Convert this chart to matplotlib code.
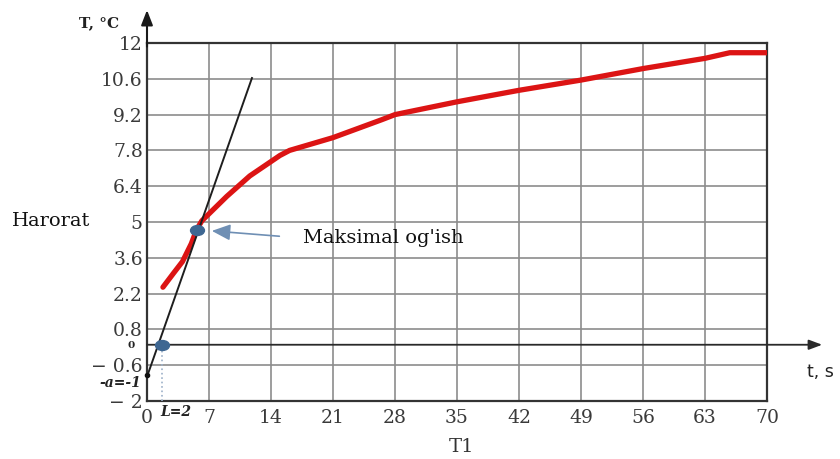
import matplotlib
matplotlib.use("Agg")
import matplotlib.pyplot as plt
from matplotlib.path import Path

# red heating curve
t_curve = [1.8, 3.0, 4.0, 5.0, 5.6, 6.2, 9.0, 11.6, 15.0, 16.1, 21.0, 26.5, 28.0, 35.0, 42.0, 49.0, 56.0, 63.0, 65.8, 70.0]
T_curve = [2.45, 3.0, 3.45, 4.15, 4.7, 5.05, 6.0, 6.8, 7.6, 7.8, 8.3, 9.0, 9.2, 9.7, 10.15, 10.55, 11.0, 11.4, 11.62, 11.62]

# tangent line at the inflection point
tan_t = [0, 11.85]
tan_T = [-1.05, 10.63]

# points marked on the chart
maxdev_pt = (5.6, 4.7)
L_pt = (1.7, 0.2)
a_pt = (0, -1.0)
zero_level = 0.2   # the drawn "0" line sits a bit above the grid value in the original

xticks = [0, 7, 14, 21, 28, 35, 42, 49, 56, 63, 70]
xlabels = ["0", "7", "14", "21", "28", "35", "42", "49", "56", "63", "70"]
yticks = [12, 10.6, 9.2, 7.8, 6.4, 5.0, 3.6, 2.2, 0.8, -0.6, -2.0]
ylabels = ["12", "10.6", "9.2", "7.8", "6.4", "5", "3.6", "2.2", "0.8", "\u2212 0.6", "\u2212 2"]

W, H = 840, 459

def px(x, y):
    return x / W, 1 - y / H

fig = plt.figure(figsize=(W / 100, H / 100), dpi=100)
ax = fig.add_axes([147 / W, 58 / H, 620 / W, 358 / H])

ax.set_xlim(0, 70)
ax.set_ylim(-2, 12)
ax.set_xticks(xticks)
ax.set_xticklabels(xlabels)
ax.set_yticks(yticks)
ax.set_yticklabels(ylabels)
ax.tick_params(axis="both", length=0, labelsize=13.5, labelcolor="#3a3a3a")
ax.tick_params(axis="y", pad=3)
ax.tick_params(axis="x", pad=6)
for lab in ax.get_xticklabels() + ax.get_yticklabels():
    lab.set_family("DejaVu Serif")
ax.grid(True, color="#8c8c8c", lw=1.2)
ax.set_axisbelow(True)
for sp in ax.spines.values():
    sp.set_color("#333333")
    sp.set_linewidth(1.6)

# zero line with arrow to the right
ax.annotate("", xy=(1.089, zero_level), xytext=(0, zero_level),
            xycoords=("axes fraction", "data"), textcoords=("axes fraction", "data"),
            arrowprops=dict(arrowstyle="-|>,head_length=0.8,head_width=0.3", color="#2a2a2a",
                            lw=1.3, shrinkA=0, shrinkB=0), annotation_clip=False)
# y axis arrow on top
ax.annotate("", xy=(0, 1.092), xytext=(0, 0.99), xycoords="axes fraction",
            arrowprops=dict(arrowstyle="-|>,head_length=0.9,head_width=0.35", color="#1a1a1a",
                            lw=1.5, shrinkA=0, shrinkB=0), annotation_clip=False)

ax.plot(t_curve, T_curve, color="#dc1414", lw=3.8, solid_joinstyle="round",
        solid_capstyle="round", zorder=4)
ax.plot(tan_t, tan_T, color="#1e1e1e", lw=1.4, zorder=5)

# dotted drop line at L
ax.plot([L_pt[0], L_pt[0]], [-2, L_pt[1]], color="#9cb0c8", lw=1.2, ls=":", zorder=3)

circ = Path.unit_circle()
ellipse = Path(circ.vertices * [1.4, 1.0], circ.codes)
ax.plot(*maxdev_pt, marker=ellipse, ms=10, color="#3e6792", zorder=6)
ax.plot(*L_pt, marker=ellipse, ms=10, color="#3e6792", zorder=6)
ax.plot(*a_pt, marker="o", ms=3, color="#111111", zorder=6, clip_on=False)

ax.annotate("Maksimal og'ish", xy=maxdev_pt, xytext=(17.6, 4.37),
            ha="left", va="center", fontsize=14, family="DejaVu Serif", color="#111111",
            arrowprops=dict(arrowstyle="-|>,head_length=0.8,head_width=0.35", color="#6f8fb4",
                            lw=1.2, shrinkA=15, shrinkB=11, relpos=(0, 0.5)))

# labels around the axes
fig.text(*px(99, 23), "T, \u00b0C", ha="center", va="center", fontsize=11,
         family="DejaVu Serif", weight="bold", color="#222222")
fig.text(*px(807, 372), "t, s", ha="left", va="center", fontsize=12.5,
         family="DejaVu Sans", color="#222222")
fig.text(*px(461, 447), "T1", ha="center", va="center", fontsize=14,
         family="DejaVu Serif", color="#333333")
fig.text(*px(51, 221), "Harorat", ha="center", va="center", fontsize=14,
         family="DejaVu Serif", color="#111111")
fig.text(*px(141, 383), "-a=-1", ha="right", va="center", fontsize=10,
         family="DejaVu Serif", weight="bold", style="italic", color="#222222")
fig.text(*px(131, 345), "0", ha="center", va="center", fontsize=7.5,
         family="DejaVu Serif", weight="bold", color="#222222")
fig.text(*px(176, 412), "L=2", ha="center", va="center", fontsize=10,
         family="DejaVu Serif", weight="bold", style="italic", color="#222222")

fig.savefig("out.png", dpi=100, facecolor="white")
